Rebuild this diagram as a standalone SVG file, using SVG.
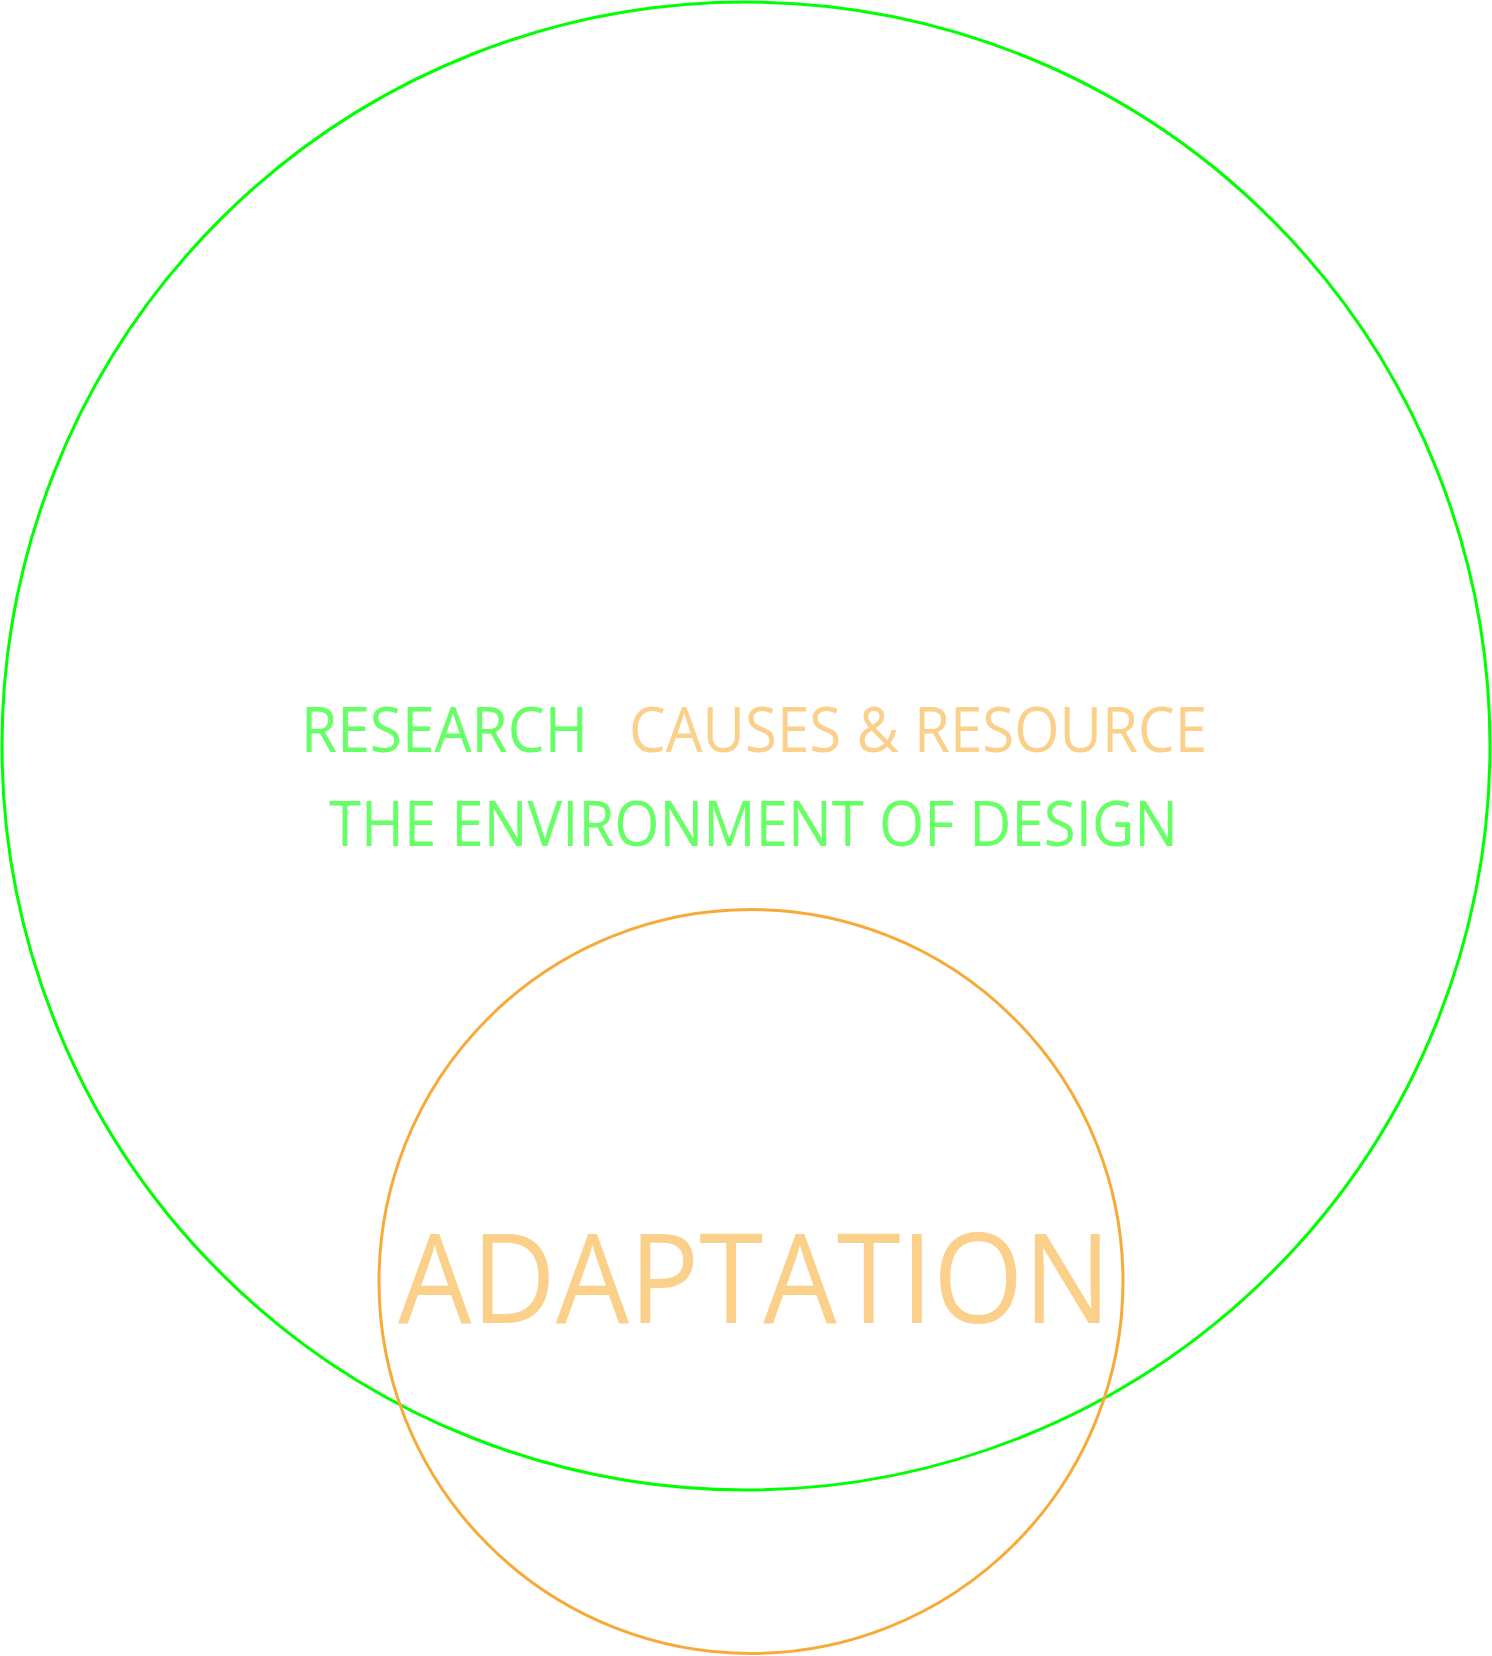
<svg xmlns="http://www.w3.org/2000/svg" width="1492" height="1656" viewBox="0 0 1492 1656">
<style>
.t{font-family:"Open Sans","Noto Sans","Liberation Sans",sans-serif;font-weight:400}
.g{fill:#66ff66}
.o{fill:#fbd08b}
</style>
<rect width="1492" height="1656" fill="#ffffff"/>
<g id="environment">
<circle cx="746" cy="746" r="744" fill="none" stroke="#00ff00" stroke-width="3"/>
<text class="t g" x="301" y="752" font-size="63" textLength="287" lengthAdjust="spacingAndGlyphs">RESEARCH</text>
<text class="t o" x="629" y="752" font-size="63" textLength="578" lengthAdjust="spacingAndGlyphs">CAUSES &amp; RESOURCE</text>
<text class="t g" x="329" y="846" font-size="63" textLength="849" lengthAdjust="spacingAndGlyphs">THE ENVIRONMENT OF DESIGN</text>
</g>
<g id="adaptation">
<circle cx="751" cy="1281.5" r="372" fill="none" stroke="#f8aa38" stroke-width="3"/>
<text class="t o" x="398" y="1323" font-size="125" textLength="713" lengthAdjust="spacingAndGlyphs">ADAPTATION</text>
</g>
<g id="connectors"/>
</svg>
